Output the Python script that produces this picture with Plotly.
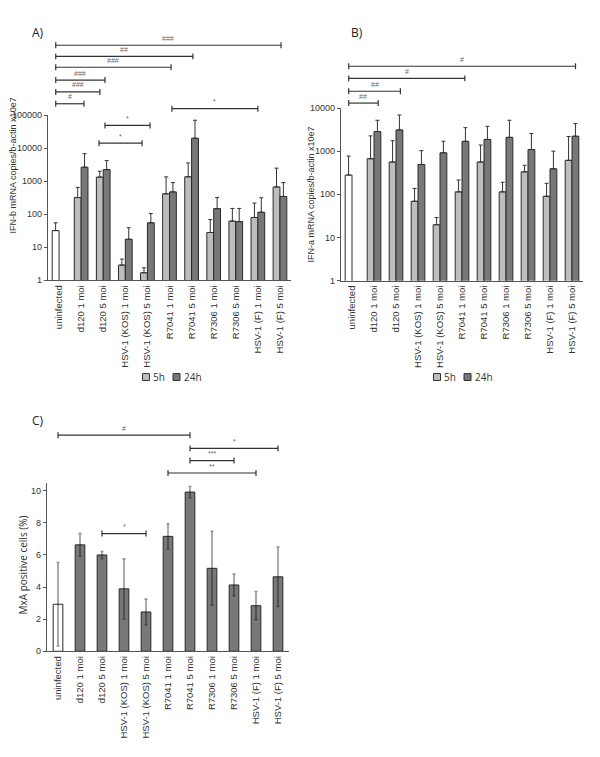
import plotly.graph_objects as go

# The page body has an 8px default margin; the figure is sized so that the
# whole page fits in the 600x757 window and coordinates are given in window px.
OFF = 8
W, H = 584, 741

categories = ["uninfected", "d120 1 moi", "d120 5 moi", "HSV-1 (KOS) 1 moi",
              "HSV-1 (KOS) 5 moi", "R7041 1 moi", "R7041 5 moi", "R7306 1 moi",
              "R7306 5 moi", "HSV-1 (F) 1 moi", "HSV-1 (F) 5 moi"]

# Panel A: IFN-b (log scale), upper error only
ifnb_5h = [32, 320, 1330, 2.9, 1.7, 415, 1360, 28, 62, 80, 670]
ifnb_5h_err = [23, 330, 670, 1.5, 0.7, 935, 2200, 41, 88, 138, 1810]
ifnb_24h = [None, 2650, 2250, 17.5, 55, 475, 20000, 148, 60, 115, 345]
ifnb_24h_err = [None, 4150, 1950, 21.5, 50, 435, 50000, 172, 90, 200, 565]

# Panel B: IFN-a (log scale)
ifna_5h = [279, 668, 560, 69, 19.7, 114, 560, 114, 332, 90, 613]
ifna_5h_err = [491, 1592, 1180, 68, 9.3, 101, 830, 76, 138, 90, 1577]
ifna_24h = [None, 2850, 3100, 490, 916, 1690, 1870, 2090, 1090, 390, 2220]
ifna_24h_err = [None, 2350, 3800, 540, 784, 1810, 1890, 3110, 1480, 610, 2130]

# Panel C: MxA positive cells (%)
mxa = [2.93, 6.63, 6.0, 3.89, 2.45, 7.16, 9.92, 5.17, 4.13, 2.84, 4.64]
mxa_err = [2.6, 0.7, 0.22, 1.87, 0.8, 0.78, 0.35, 2.3, 0.68, 0.88, 1.85]

ticks_a = [1, 10, 100, 1000, 10000, 100000]
ticktext_a = ["1", "10", "100", "1000", "10000", "100000"]
ticks_b = [1, 10, 100, 1000, 10000]
ticktext_b = ["1", "10", "100", "1000", "10000"]
ticks_c = [0, 2, 4, 6, 8, 10]
ticktext_c = ["0", "2", "4", "6", "8", "10"]

series_names = ["5h", "24h"]
panel_labels = ["A)", "B)", "C)"]
ytitles = ["IFN-b mRNA copies/b-actin x10e7", "IFN-a mRNA copies/b-actin x10e7",
           "MxA positive cells (%)"]

# significance brackets (x in category units, y in px from top, label)
sig_a = [(-0.15, 10.05, 40.7, "###"), (-0.15, 6.06, 52, "##"), (-0.15, 5.07, 63, "###"),
         (-0.15, 2.08, 76, "###"), (-0.15, 1.85, 88, "###"), (-0.15, 1.13, 100, "#"),
         (5.11, 9.0, 105, "*"), (2.08, 4.12, 122, "*"), (1.81, 3.76, 140, "*")]
sig_b = [(-0.15, 10.16, 62, "#"), (-0.15, 5.13, 74.3, "#"), (-0.15, 2.2, 87.3, "##"),
         (-0.15, 1.19, 99.3, "##")]
sig_c = [(0, 6, 436, "#"), (6, 10, 449.3, "*"), (6, 8, 461.7, "***"),
         (5, 9, 474.3, "**"), (2, 4, 535.7, "*")]

LIGHT = "#bdbdbd"
DARK = "#787878"
EDGE = "#2a2a2a"
AXC = "#555555"
FONT = "Liberation Sans, Arial, sans-serif"
FONT2 = "Open Sans, sans-serif"

def px(x):
    return (x - OFF) / W

def py(y):
    return 1 - (y - OFF) / H

fig = go.Figure()

n = len(categories)

def add_pair(v5, e5, v24, e24, xa, ya):
    cols = ["white"] + [LIGHT] * (n - 1)
    fig.add_trace(go.Bar(
        x=categories, y=v5, name=series_names[0], xaxis=xa, yaxis=ya,
        marker=dict(color=cols, line=dict(color=EDGE, width=1)),
        error_y=dict(type="data", array=e5, arrayminus=[0] * n, symmetric=False,
                     color="#333333", thickness=1, width=2),
        showlegend=False))
    fig.add_trace(go.Bar(
        x=categories, y=v24, name=series_names[1], xaxis=xa, yaxis=ya,
        marker=dict(color=DARK, line=dict(color=EDGE, width=1)),
        error_y=dict(type="data", array=e24, arrayminus=[0] * n, symmetric=False,
                     color="#333333", thickness=1, width=2),
        showlegend=False))

add_pair(ifnb_5h, ifnb_5h_err, ifnb_24h, ifnb_24h_err, "x", "y")
add_pair(ifna_5h, ifna_5h_err, ifna_24h, ifna_24h_err, "x2", "y2")

fig.add_trace(go.Bar(
    x=categories, y=mxa, xaxis="x3", yaxis="y3", width=0.44,
    marker=dict(color=["white"] + [DARK] * (n - 1), line=dict(color=EDGE, width=1)),
    error_y=dict(type="data", array=mxa_err, color="rgba(0,0,0,0.42)", thickness=1.6, width=1.5),
    showlegend=False))

xcommon = dict(type="category", categoryorder="array", categoryarray=categories,
               range=[-0.5, n - 0.5], showline=True, linecolor=AXC, linewidth=1.3,
               ticks="", tickangle=-90, tickfont=dict(family=FONT, size=9.5, color="#333"),
               showgrid=False, zeroline=False, fixedrange=True)
ycommon = dict(showline=True, linecolor=AXC, linewidth=1.3, ticks="outside", ticklen=3,
               tickcolor=AXC, tickfont=dict(family=FONT, size=9, color="#333"),
               showgrid=False, zeroline=False)

fig.update_layout(
    width=W, height=H, margin=dict(l=0, r=0, t=0, b=0),
    paper_bgcolor="white", plot_bgcolor="white",
    barmode="group", bargap=0.38, bargroupgap=0,
    xaxis=dict(xcommon, domain=[px(48), px(291)], anchor="y"),
    yaxis=dict(ycommon, type="log", range=[0, 5], tickvals=ticks_a, ticktext=ticktext_a,
               domain=[py(279), py(111.5)], anchor="x"),
    xaxis2=dict(xcommon, domain=[px(341), px(583)], anchor="y2"),
    yaxis2=dict(ycommon, type="log", range=[0, 4], tickvals=ticks_b, ticktext=ticktext_b,
                domain=[py(279.3), py(104.3)], anchor="x2"),
    xaxis3=dict(xcommon, domain=[px(47), px(289)], anchor="y3"),
    yaxis3=dict(ycommon, range=[0, 10.5], tickvals=ticks_c, ticktext=ticktext_c,
                domain=[py(655), py(484.2)], anchor="x3"),
)

shapes = []
annos = []

def add_brackets(specs, xref):
    for x0, x1, y, lab in specs:
        line = dict(color="#333333", width=1.2)
        shapes.append(dict(type="line", xref=xref, yref="paper", x0=x0, x1=x1,
                           y0=py(y), y1=py(y), line=line))
        for xe in (x0, x1):
            shapes.append(dict(type="line", xref=xref, yref="paper", x0=xe, x1=xe,
                               y0=py(y - 3), y1=py(y + 3), line=line))
        annos.append(dict(x=(x0 + x1) / 2, y=py(y - 1.5), xref=xref, yref="paper",
                          text=lab, showarrow=False, yanchor="bottom",
                          font=dict(family=FONT, size=7, color="#666")))

add_brackets(sig_a, "x")
add_brackets(sig_b, "x2")
add_brackets(sig_c, "x3")

# panel labels
for lab, (x, y) in zip(panel_labels, [(30, 28), (349, 28), (30, 421)]):
    annos.append(dict(x=px(x), y=py(y), xref="paper", yref="paper", text=lab,
                      showarrow=False, xanchor="left", yanchor="middle",
                      font=dict(family=FONT2, size=12, color="#222")))

# y titles
for lab, (x, y), fs, fam in zip(ytitles, [(12.5, 163), (311, 192), (23, 568)],
                                [9, 9, 10], [FONT, FONT, FONT2]):
    annos.append(dict(x=px(x), y=py(y), xref="paper", yref="paper", text=lab,
                      textangle=-90, showarrow=False, xanchor="center", yanchor="middle",
                      font=dict(family=fam, size=fs, color="#333")))

# legends (manual)
for cx0 in (146, 437):
    for k, (dx, col) in enumerate([(0, LIGHT), (30.5, DARK)]):
        cx = cx0 + dx
        shapes.append(dict(type="rect", xref="paper", yref="paper",
                           x0=px(cx - 3.5), x1=px(cx + 3.5), y0=py(380.5), y1=py(373.5),
                           fillcolor=col, line=dict(color="#333", width=1)))
        annos.append(dict(x=px(cx + 5), y=py(377), xref="paper", yref="paper",
                          text=series_names[k], showarrow=False, xanchor="left",
                          yanchor="middle", font=dict(family=FONT2, size=10, color="#333")))

fig.update_layout(shapes=shapes, annotations=annos)
fig.write_html("out.html")
